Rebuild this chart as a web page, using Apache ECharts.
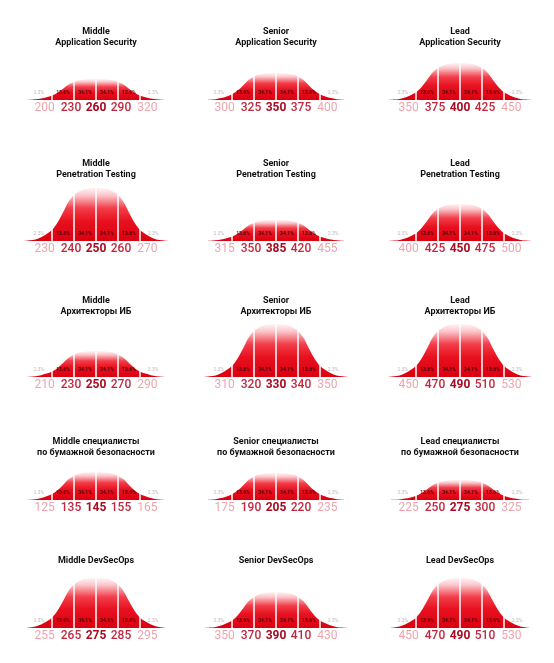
<!DOCTYPE html>
<html><head><meta charset="utf-8">
<script src="https://cdn.jsdelivr.net/npm/echarts@6/dist/echarts.min.js"></script>
<style>html,body{margin:0;padding:0;background:#fff}#c{width:554px;height:663px}</style>
</head><body><div id="c"></div>
<script>
// ---- data ----
const titles = [
  'Middle\nApplication Security', 'Senior\nApplication Security', 'Lead\nApplication Security',
  'Middle\nPenetration Testing', 'Senior\nPenetration Testing', 'Lead\nPenetration Testing',
  'Middle\nАрхитекторы ИБ', 'Senior\nАрхитекторы ИБ', 'Lead\nАрхитекторы ИБ',
  'Middle специалисты\nпо бумажной безопасности', 'Senior специалисты\nпо бумажной безопасности', 'Lead специалисты\nпо бумажной безопасности',
  'Middle DevSecOps', 'Senior DevSecOps', 'Lead DevSecOps'
];
const ticks = [
  [200, 230, 260, 290, 320], [300, 325, 350, 375, 400], [350, 375, 400, 425, 450],
  [230, 240, 250, 260, 270], [315, 350, 385, 420, 455], [400, 425, 450, 475, 500],
  [210, 230, 250, 270, 290], [310, 320, 330, 340, 350], [450, 470, 490, 510, 530],
  [125, 135, 145, 155, 165], [175, 190, 205, 220, 235], [225, 250, 275, 300, 325],
  [255, 265, 275, 285, 295], [350, 370, 390, 410, 430], [450, 470, 490, 510, 530]
];
const peaks = [21, 27, 37, 53, 21, 37, 26, 53, 53, 28, 27, 20, 50, 36, 50];
const shareLabels = ['2.3%', '13.6%', '34.1%', '34.1%', '13.6%', '2.3%'];
// bell profile: offset in steps from the centre tick, relative height
const profileX = [-3.25, -3, -2.75, -2.5, -2.25, -2, -1.75, -1.5, -1.25, -1, -0.75, -0.5, -0.25, 0, 0.25, 0.5, 0.75, 1, 1.25, 1.5, 1.75, 2, 2.25, 2.5, 2.75, 3, 3.25];
const profileY = [0, 0.012, 0.03, 0.07, 0.13, 0.21, 0.35, 0.54, 0.74, 0.87, 0.94, 0.98, 0.995, 1, 0.995, 0.98, 0.94, 0.87, 0.74, 0.54, 0.35, 0.21, 0.13, 0.07, 0.03, 0.012, 0];
const labelSteps = [-2.6, -1.5, -0.5, 0.5, 1.5, 2.6];

// ---- layout ----
const colX = [96, 276, 460];
const baseY = [100, 241, 377, 500, 628];
const titleY = [32, 164, 301, 442, 561];
const H = 56, HALF = 72.5, SPAN = 3.3;

const chart = echarts.init(document.getElementById('c'), null, {renderer: 'canvas'});
const option = {backgroundColor: '#fff', animation: false, title: [], grid: [], xAxis: [], yAxis: [], series: []};

const F = 'Roboto';
titles.forEach((t, i) => {
  const r = Math.floor(i / 3), c = i % 3;
  const tk = ticks[i];
  const mu = tk[2], st = tk[3] - tk[2];
  const cx = colX[c];
  option.title.push({
    text: t, left: cx, top: titleY[r] - 5.5, padding: 0, textAlign: 'center',
    textStyle: {fontFamily: F, fontWeight: 'bold', fontSize: 9, lineHeight: 11, color: '#111'}
  });
  option.grid.push({left: cx - HALF, width: HALF * 2, top: baseY[r] - H, height: H, containLabel: false});
  option.xAxis.push({
    type: 'value', gridIndex: i, min: mu - SPAN * st, max: mu + SPAN * st,
    axisLine: {show: false}, axisTick: {show: false}, splitLine: {show: false},
    axisLabel: {
      customValues: tk, margin: 2,
      formatter: (v) => {
        const k = tk.indexOf(v);
        return '{s' + k + '|' + v + '}';
      },
      rich: {
        s0: {fontFamily: F, fontSize: 12, color: '#eea5ad', padding: [0, 15, 0, 0]},
        s1: {fontFamily: F, fontSize: 12, color: '#c02840', fontWeight: 500, padding: [0, 6, 0, 0]},
        s2: {fontFamily: F, fontSize: 12, color: '#a80b22', fontWeight: 'bold'},
        s3: {fontFamily: F, fontSize: 12, color: '#c02840', fontWeight: 500, padding: [0, 0, 0, 6]},
        s4: {fontFamily: F, fontSize: 12, color: '#eea5ad', padding: [0, 0, 0, 15]}
      }
    }
  });
  option.yAxis.push({type: 'value', gridIndex: i, min: 0, max: H, show: false});
  const curve = profileX.map((s, k) => [mu + s * st, peaks[i] * profileY[k]]);
  option.series.push({
    type: 'line', xAxisIndex: i, yAxisIndex: i, data: curve, smooth: 0.35, showSymbol: false, silent: true,
    lineStyle: {width: 0},
    areaStyle: {
      opacity: 1,
      color: new echarts.graphic.LinearGradient(0, 0, 0, 1, [
        {offset: 0, color: '#fff4f5'},
        {offset: 0.14, color: '#fbc6cb'},
        {offset: 0.38, color: '#f23e4a'},
        {offset: 0.62, color: '#e8111f'},
        {offset: 1, color: '#db0011'}
      ])
    },
    markLine: {
      silent: true, symbol: 'none', label: {show: false},
      lineStyle: {color: '#ffffff', width: 1.5, type: 'solid', opacity: 1},
      data: tk.map(v => [{coord: [v, 0]}, {coord: [v, peaks[i]]}])
    }
  });
  option.series.push({
    type: 'scatter', xAxisIndex: i, yAxisIndex: i, symbolSize: 0, silent: true, z: 5,
    data: labelSteps.map((s, k) => {
      const outer = (k === 0 || k === 5);
      return {
        value: [mu + s * st, 0],
        label: {
          show: true, position: 'inside', offset: [0, -7], formatter: shareLabels[k],
          fontFamily: F, fontSize: 5, fontWeight: outer ? 'normal' : 'bold',
          color: outer ? '#a8a8a8' : '#2a0000'
        }
      };
    })
  });
});
chart.setOption(option);
</script></body></html>
